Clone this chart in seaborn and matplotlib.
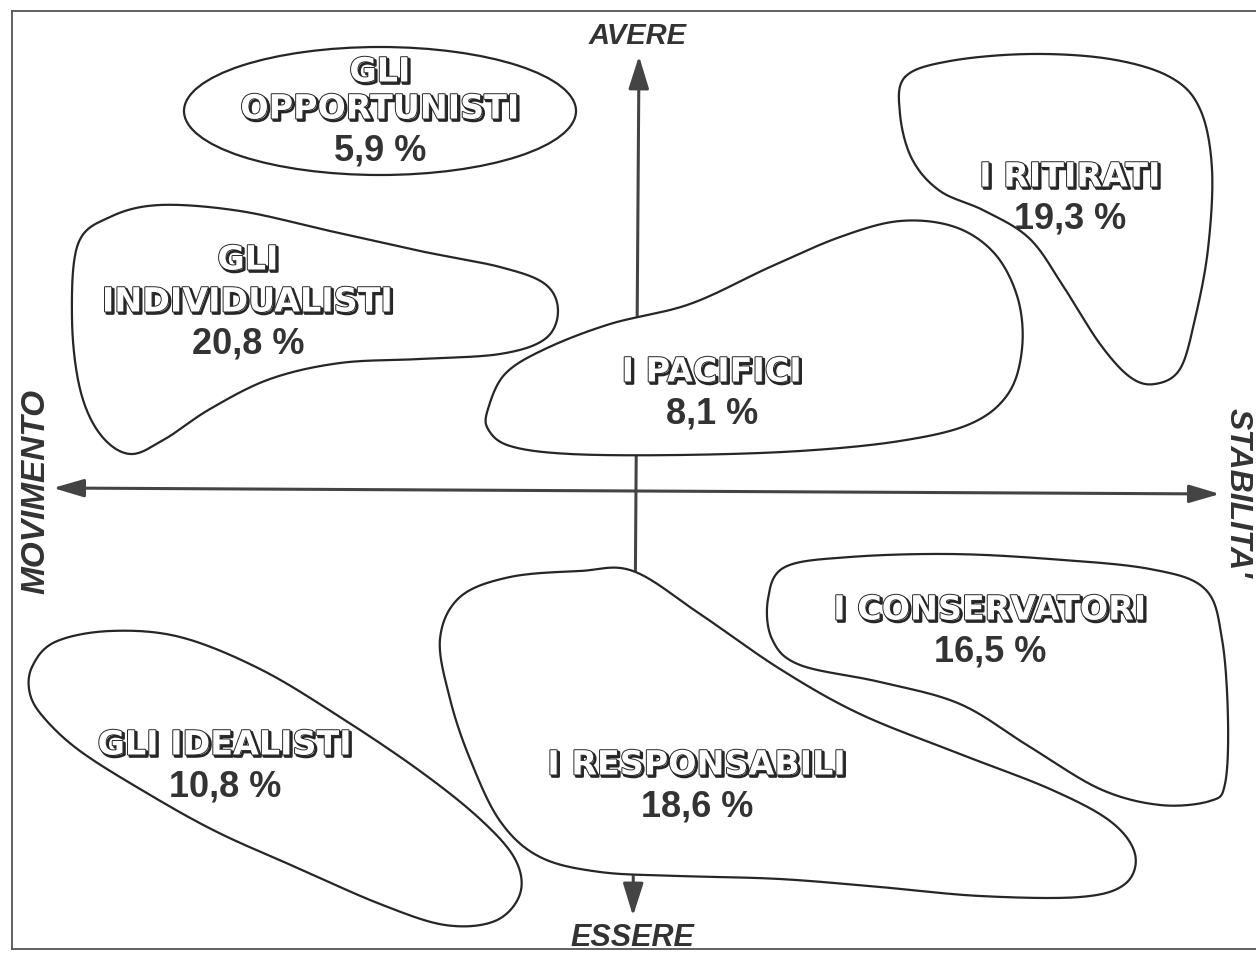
import numpy as np
import matplotlib
matplotlib.use("Agg")
import matplotlib.pyplot as plt
import matplotlib.patheffects as pe
from matplotlib.patches import Ellipse
from matplotlib import font_manager as fm
import seaborn as sns

# ---------------- data ----------------
GROUPS = ["GLI OPPORTUNISTI", "GLI INDIVIDUALISTI", "I RITIRATI", "I PACIFICI",
          "I CONSERVATORI", "I RESPONSABILI", "GLI IDEALISTI"]
NAME_LINES = [["GLI", "OPPORTUNISTI"], ["GLI", "INDIVIDUALISTI"], ["I RITIRATI"],
              ["I PACIFICI"], ["I CONSERVATORI"], ["I RESPONSABILI"], ["GLI IDEALISTI"]]
SHARES = [5.9, 20.8, 19.3, 8.1, 16.5, 18.6, 10.8]
LABEL_X = [380, 248, 1070, 712, 990, 697, 225]
LABEL_Y = [73, 261, 178, 373, 611, 766, 746]

AXIS_TOP, AXIS_BOTTOM, AXIS_LEFT, AXIS_RIGHT = "AVERE", "ESSERE", "MOVIMENTO", "STABILITA'"

# ellipse of "gli opportunisti"
OPP_CENTER = (380, 112)
OPP_SIZE = (392, 128)

# outlines of the other groups (closed, smoothed)
INDIV_X = [78, 110, 160, 240, 330, 420, 500, 545, 558, 545, 500, 420, 340, 270, 210, 165, 130, 100, 80, 72]
INDIV_Y = [245, 218, 206, 212, 232, 252, 268, 285, 312, 340, 355, 360, 364, 380, 410, 440, 455, 435, 390, 320]

RITIR_X = [905, 950, 1030, 1110, 1170, 1200, 1212, 1208, 1195, 1180, 1155, 1130, 1100, 1065, 1030, 985, 940, 912, 900]
RITIR_Y = [78, 62, 55, 60, 78, 110, 170, 250, 320, 370, 385, 378, 345, 290, 240, 212, 192, 160, 115]

PACIF_X = [488, 505, 545, 610, 690, 770, 840, 900, 955, 995, 1018, 1022, 1008, 970, 900, 800, 680, 570, 510, 488]
PACIF_Y = [410, 375, 350, 325, 305, 268, 238, 222, 228, 255, 300, 350, 395, 425, 442, 452, 456, 455, 447, 430]

CONSE_X = [768, 785, 850, 950, 1050, 1150, 1205, 1222, 1228, 1225, 1210, 1160, 1100, 1030, 960, 880, 800, 772]
CONSE_Y = [600, 568, 558, 555, 560, 570, 590, 640, 720, 785, 802, 806, 790, 748, 705, 683, 666, 640]

RESPO_X = [440, 460, 510, 580, 633, 700, 780, 860, 960, 1050, 1110, 1135, 1125, 1080, 980, 880, 780, 680, 600, 540, 500, 470, 450]
RESPO_Y = [640, 598, 578, 572, 572, 615, 670, 715, 755, 790, 822, 855, 885, 898, 897, 888, 880, 877, 873, 858, 822, 760, 700]

IDEAL_X = [32, 55, 110, 180, 260, 340, 420, 480, 515, 520, 495, 445, 380, 300, 215, 140, 80, 45, 30]
IDEAL_Y = [668, 643, 632, 638, 670, 718, 772, 820, 860, 895, 922, 926, 905, 870, 832, 790, 752, 720, 695]

BLOBS = [(INDIV_X, INDIV_Y), (RITIR_X, RITIR_Y), (PACIF_X, PACIF_Y),
         (CONSE_X, CONSE_Y), (RESPO_X, RESPO_Y), (IDEAL_X, IDEAL_Y)]

# axes (arrow end points)
VAXIS_X = [633, 639]
VAXIS_Y = [917, 57]
HAXIS_X = [53, 1220]
HAXIS_Y = [489, 495]


def closed_smooth(xs, ys, n=24):
    P = np.column_stack([xs, ys]).astype(float)
    m = len(P)
    t = np.linspace(0, 1, n, endpoint=False)[:, None]
    segs = []
    for i in range(m):
        p0, p1, p2, p3 = P[(i - 1) % m], P[i], P[(i + 1) % m], P[(i + 2) % m]
        segs.append(0.5 * (2 * p1 + (-p0 + p2) * t + (2 * p0 - 5 * p1 + 4 * p2 - p3) * t ** 2
                           + (-p0 + 3 * p1 - 3 * p2 + p3) * t ** 3))
    segs.append(P[:1])
    out = np.vstack(segs)
    return out[:, 0], out[:, 1]


# ---------------- style ----------------
sns.set_theme(style="white")
names = {f.name for f in fm.fontManager.ttflist}
base = "Liberation Sans" if "Liberation Sans" in names else "DejaVu Sans"
plt.rcParams["font.family"] = [base, "DejaVu Sans"]

INK = "#262626"
TXT = "#333333"

fig = plt.figure(figsize=(12.56, 9.54), dpi=100, facecolor="white")
ax = fig.add_axes([12 / 1256, 4 / 954, 1 - 12 / 1256, 938 / 954])
ax.set_facecolor("white")

# axes arrows
ax.annotate("", xy=(VAXIS_X[1], VAXIS_Y[1]), xytext=(VAXIS_X[0], VAXIS_Y[0]),
            arrowprops=dict(arrowstyle="<|-|>,head_length=0.8,head_width=0.25",
                            mutation_scale=25, color="#444444", lw=2.2,
                            shrinkA=0, shrinkB=0), zorder=1)
ax.annotate("", xy=(HAXIS_X[1], HAXIS_Y[1]), xytext=(HAXIS_X[0], HAXIS_Y[0]),
            arrowprops=dict(arrowstyle="<|-|>,head_length=0.75,head_width=0.22",
                            mutation_scale=25, color="#444444", lw=2.2,
                            shrinkA=0, shrinkB=0), zorder=1)

# ellipse
ax.add_patch(Ellipse(OPP_CENTER, OPP_SIZE[0], OPP_SIZE[1], angle=0,
                     facecolor="white", edgecolor=INK, lw=1.6, zorder=3))

# blobs
for bx, by in BLOBS:
    sx, sy = closed_smooth(bx, by)
    ax.fill(sx, sy, color="white", zorder=2.5)
    sns.lineplot(x=sx, y=sy, sort=False, estimator=None, ax=ax,
                 color=INK, linewidth=1.6, zorder=3)

# labels (hollow, outlined letters)
outline = [pe.Stroke(linewidth=2.0, foreground=INK, offset=(1.4, -1.4)),
           pe.Stroke(linewidth=1.4, foreground=INK), pe.Normal()]
for lines, share, lx, ly in zip(NAME_LINES, SHARES, LABEL_X, LABEL_Y):
    gap = 37 if len(lines) > 1 and lines[1] == "OPPORTUNISTI" else 42
    for k, line in enumerate(lines):
        ax.text(lx, ly + k * gap, line, ha="center", va="center", fontsize=24,
                fontweight="bold", color="white", family="DejaVu Sans",
                path_effects=outline, zorder=5)
    py = ly + (len(lines) - 1) * gap + 41
    ax.text(lx, py, f"{share:.1f}".replace(".", ",") + " %", ha="center", va="center",
            fontsize=26, fontweight="bold", color=TXT, zorder=5)

# axis names
ax.text(638, 36, AXIS_TOP, ha="center", va="center", fontsize=21, fontweight="bold",
        fontstyle="italic", color=TXT, zorder=5)
ax.text(632, 938, AXIS_BOTTOM, ha="center", va="center", fontsize=22, fontweight="bold",
        fontstyle="italic", color=TXT, zorder=5)
ax.text(36, 491, AXIS_LEFT, ha="center", va="center", fontsize=24, fontweight="bold",
        fontstyle="italic", color=TXT, rotation=90, zorder=5)
ax.text(1238, 493, AXIS_RIGHT, ha="center", va="center", fontsize=23, fontweight="bold",
        fontstyle="italic", color=TXT, rotation=-90, zorder=5)

ax.set_xlim(12, 1256)
ax.set_ylim(950, 12)
ax.set_xticks([])
ax.set_yticks([])
ax.set_xlabel("")
ax.set_ylabel("")
for side in ["top", "left", "bottom"]:
    ax.spines[side].set_visible(True)
    ax.spines[side].set_color("#555555")
    ax.spines[side].set_linewidth(1.3)
ax.spines["right"].set_visible(False)

fig.savefig("out.png", dpi=100, facecolor="white")
